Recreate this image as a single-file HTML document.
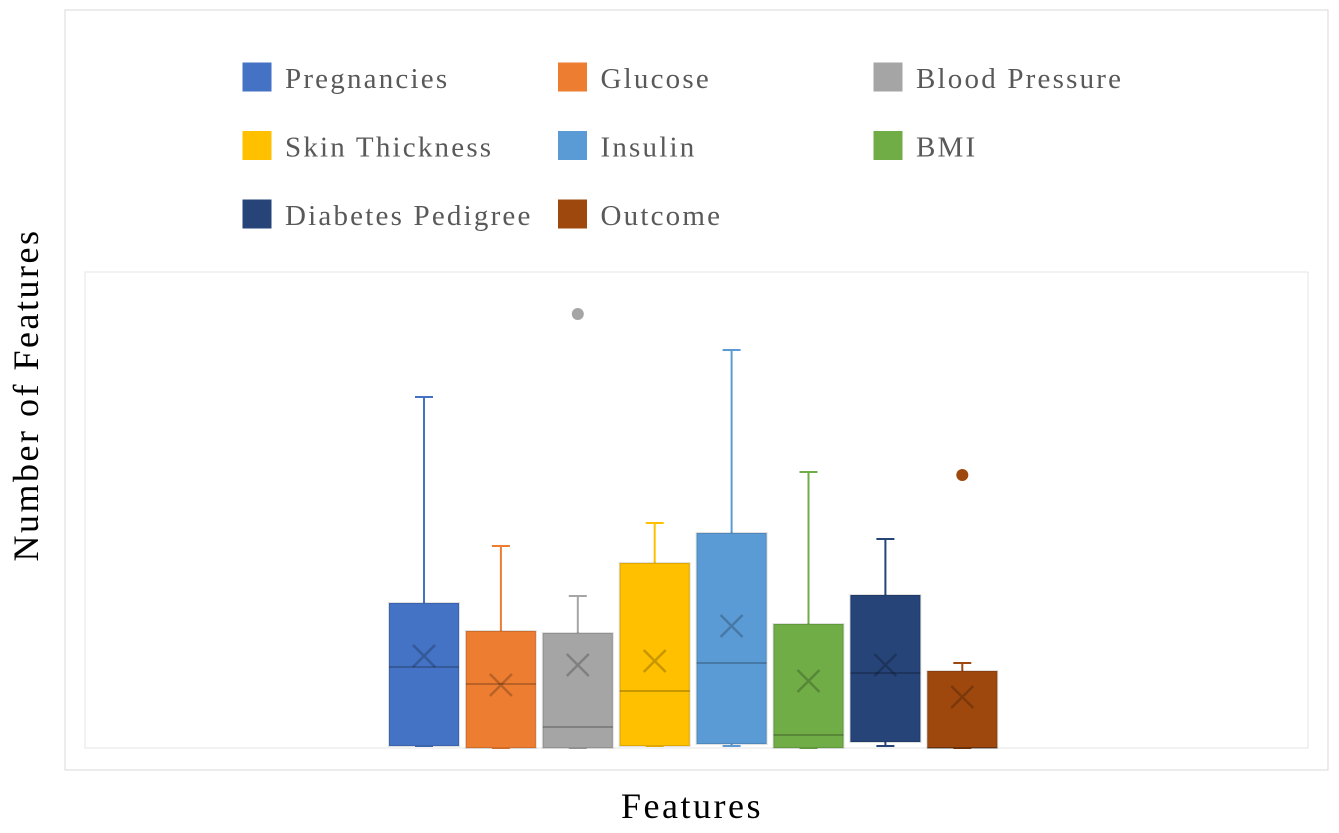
<!DOCTYPE html>
<html><head><meta charset="utf-8"><style>
body{margin:0;background:#fff;}
svg text{font-family:"Liberation Serif",serif;}
</style></head><body>
<svg width="1339" height="828" xmlns="http://www.w3.org/2000/svg">
<rect x="65" y="10" width="1263" height="760" fill="#fff" stroke="#d9d9d9"/>
<rect x="85" y="272" width="1223" height="476" fill="#fff" stroke="#e6e6e6"/>
<text x="38" y="395" font-size="36" letter-spacing="2.5" fill="#000" text-anchor="middle" transform="rotate(-90 38 395)">Number of Features</text>
<text x="692" y="818" font-size="36" letter-spacing="2.5" fill="#000" text-anchor="middle">Features</text>
<g id="legend"></g>
<g id="boxes"></g>
</svg>
<script>
const categories=["Pregnancies","Glucose","Blood Pressure","Skin Thickness","Insulin","BMI","Diabetes Pedigree","Outcome"];
const colors=["#4472c4","#ed7d31","#a5a5a5","#ffc000","#5b9bd5","#70ad47","#264478","#9e480e"];
const mins=[2,0,0,2,2,0,2,0];
const q1s=[2,0,0,2,4,0,6,0];
const medians=[81,64,21,57,85,13,75,0];
const q3s=[145,117,115,185,215,124,153,77];
const maxs=[351,202,152,225,398,276,209,85];
const means=[92,63,83,87,122,67,83,51];
const outliers=[[],[],[434],[],[],[],[],[273]];
const NS="http://www.w3.org/2000/svg";
const baseY=748, x0=424, step=76.9, bw=70;
const yS=v=>baseY-v;
const xS=i=>x0+i*step;
function mk(t,a,p){const e=document.createElementNS(NS,t);for(const k in a)e.setAttribute(k,a[k]);p.appendChild(e);return e;}
const lg=document.getElementById('legend');
categories.forEach((c,i)=>{
  const lx=242+(i%3)*315.5, ly=62+Math.floor(i/3)*68.5;
  const r=mk('rect',{x:lx,y:ly,width:30,height:30,fill:colors[i],stroke:"#fff"},lg);
  
  
  const t=mk('text',{x:lx+43,y:ly+26,'font-size':29,'letter-spacing':2.2,fill:'#595959'},lg);
  t.textContent=c;
  
  
});
const bg=document.getElementById('boxes');
categories.forEach((c,i)=>{
  const g=mk('g',{},bg);
  
  
  const cx=xS(i), col=colors[i];
  mk('line',{x1:cx,x2:cx,y1:yS(q3s[i]),y2:yS(maxs[i]),stroke:col,'stroke-width':2},g);
  mk('line',{x1:cx-9,x2:cx+9,y1:yS(maxs[i]),y2:yS(maxs[i]),stroke:col,'stroke-width':2},g);
  mk('line',{x1:cx,x2:cx,y1:yS(mins[i]),y2:yS(q1s[i]),stroke:col,'stroke-width':2},g);
  mk('line',{x1:cx-9,x2:cx+9,y1:yS(mins[i]),y2:yS(mins[i]),stroke:col,'stroke-width':2},g);
  mk('rect',{x:cx-bw/2,y:yS(q3s[i]),width:bw,height:Math.max(1,q3s[i]-q1s[i]),fill:col,stroke:'#000','stroke-opacity':0.12,'stroke-width':2},g);
  mk('line',{x1:cx-bw/2,x2:cx+bw/2,y1:yS(medians[i]),y2:yS(medians[i]),stroke:'#000','stroke-opacity':0.22,'stroke-width':2},g);
  const my=yS(means[i]);
  mk('path',{d:`M${cx-11},${my-11}L${cx+11},${my+11}M${cx+11},${my-11}L${cx-11},${my+11}`,stroke:'#000','stroke-opacity':0.22,'stroke-width':2.5,fill:'none'},g);
  outliers[i].forEach(o=>{
    const d=mk('circle',{cx:cx,cy:yS(o),r:6,fill:col},g);
    
    
  });
});
</script>
</body></html>
